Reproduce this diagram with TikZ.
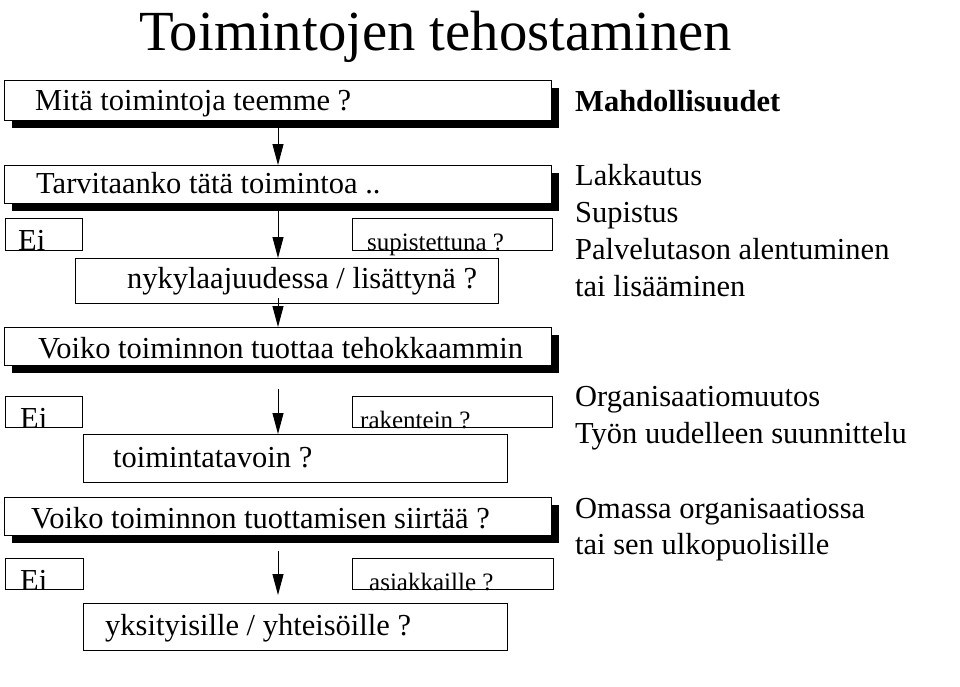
\documentclass[tikz,border=0pt]{standalone}
\usepackage{fontspec}
\setmainfont{Liberation Serif}
\usetikzlibrary{arrows.meta,shadows}
\tikzset{
  box/.style={draw=black, line width=1pt, fill=white, inner sep=0pt, anchor=north west},
  shbox/.style={box, general shadow={shadow xshift=7pt, shadow yshift=-7pt, fill=black}},
  txt/.style={anchor=base west, inner sep=0pt, font=\fontsize{30.5}{34}\selectfont},
  smalltxt/.style={anchor=base west, inner sep=0pt, font=\fontsize{25}{28}\selectfont},
  rtxt/.style={anchor=base west, inner sep=0pt, font=\fontsize{30.5}{34}\selectfont},
  arr/.style={line width=1pt, -{Triangle[length=21pt,width=11pt]}},
}
\begin{document}
\begin{tikzpicture}[x=1pt,y=-1pt]
\useasboundingbox (0,0) rectangle (960,686);
\fill[white] (0,0) rectangle (960,686);

% title
\node[anchor=base west, inner sep=0pt, font=\fontsize{56.7}{57}\selectfont] (title) at (139,50) {Toimintojen tehostaminen};

% main boxes
\node[shbox, minimum width=547pt, minimum height=40pt] (b1) at (4,80) {};
\node[txt] (t1) at (35,110) {Mitä toimintoja teemme ?};

\node[shbox, minimum width=547pt, minimum height=38pt] (b2) at (4,165) {};
\node[txt] (t2) at (36,193) {Tarvitaanko tätä toimintoa ..};

\node[box, minimum width=77pt, minimum height=32pt] (e1) at (5,218) {};
\node[txt] (te1) at (18,250) {Ei};
\node[box, minimum width=200pt, minimum height=32pt] (s1) at (352,218) {};
\node[smalltxt] (ts1) at (367,250) {supistettuna ?};

\node[box, minimum width=423pt, minimum height=45pt] (b3) at (75,258) {};
\node[txt] (t3) at (127,288) {nykylaajuudessa / lisättynä ?};

\node[shbox, minimum width=547pt, minimum height=38pt] (b4) at (4,327) {};
\node[txt] (t4) at (38,358) {Voiko toiminnon tuottaa tehokkaammin};

\node[box, minimum width=77pt, minimum height=31pt] (e2) at (5,396) {};
\node[txt] (te2) at (20,428) {Ei};
\node[box, minimum width=200pt, minimum height=31pt] (s2) at (352,396) {};
\node[smalltxt] (ts2) at (360,428) {rakentein ?};

\node[box, minimum width=424pt, minimum height=48pt] (b5) at (83,434) {};
\node[txt] (t5) at (113,467) {toimintatavoin ?};

\node[shbox, minimum width=547pt, minimum height=38pt] (b6) at (4,497) {};
\node[txt] (t6) at (31,528) {Voiko toiminnon tuottamisen siirtää ?};

\node[box, minimum width=78pt, minimum height=31pt] (e3) at (5,558) {};
\node[txt] (te3) at (20,590) {Ei};
\node[box, minimum width=201pt, minimum height=31pt] (s3) at (352,558) {};
\node[smalltxt] (ts3) at (369,590) {asiakkaille ?};

\node[box, minimum width=424pt, minimum height=47pt] (b7) at (83,603) {};
\node[txt] (t7) at (105,635) {yksityisille / yhteisöille ?};

% arrows
\draw[arr] (b1.south) -- (b1.south |- b2.north);
\draw[arr] (b2.south) -- (b2.south |- b3.north);
\draw[arr, shorten <=-6pt] (b2.south |- b3.south) -- (b2.south |- b4.north);
\draw[arr, shorten <=23pt] (b4.south) -- (b4.south |- b5.north);
\draw[arr, shorten <=15pt, shorten >=8pt] (b6.south) -- (b6.south |- b7.north);

% right column
\node[rtxt, font=\bfseries\fontsize{30.5}{34}\selectfont] (m0) at (575,111) {Mahdollisuudet};
\node[rtxt] (m1) at (575,185) {Lakkautus};
\node[rtxt] (m2) at (575,222) {Supistus};
\node[rtxt] (m3) at (575,259) {Palvelutason alentuminen};
\node[rtxt] (m4) at (575,296) {tai lisääminen};
\node[rtxt] (m5) at (575,406) {Organisaatiomuutos};
\node[rtxt] (m6) at (575,443) {Työn uudelleen suunnittelu};
\node[rtxt] (m7) at (575,518) {Omassa organisaatiossa};
\node[rtxt] (m8) at (575,554) {tai sen ulkopuolisille};
\end{tikzpicture}
\end{document}
